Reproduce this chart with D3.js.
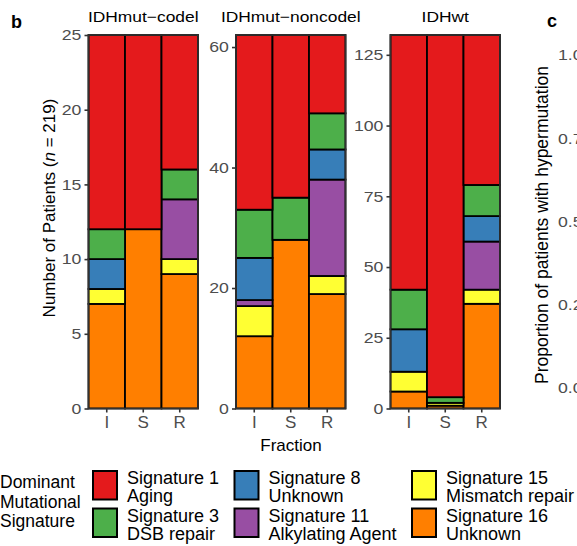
<!DOCTYPE html>
<html>
<head>
<meta charset="utf-8">
<script src="https://cdn.jsdelivr.net/npm/d3@7"></script>
<style>
  html, body { margin: 0; padding: 0; background: #fff; overflow: hidden; }
  svg { display: block; font-family: "Liberation Sans", Arial, Helvetica, sans-serif; }
</style>
</head>
<body>
<svg id="chart" width="577" height="546"></svg>
<script>
// ---- data ----
const subtypes = ["IDHmut−codel", "IDHmut−noncodel", "IDHwt"];
const fractions = ["I", "S", "R"];
// stacking order, bottom to top
const signatures = ["Signature 16", "Signature 15", "Signature 11", "Signature 8", "Signature 3", "Signature 1"];
const sigColors = ["#FF7F00", "#FFFF33", "#984EA3", "#377EB8", "#4DAF4A", "#E41A1C"];

// counts per signature (rows follow `signatures`), columns follow `fractions`
const codelCounts = [
  [7, 12, 9],    // Sig 16
  [1, 0, 1],     // Sig 15
  [0, 0, 4],     // Sig 11
  [2, 0, 0],     // Sig 8
  [2, 0, 2],     // Sig 3
  [13, 13, 9]    // Sig 1
];
const noncodelCounts = [
  [12, 28, 19],
  [5, 0, 3],
  [1, 0, 16],
  [7, 0, 5],
  [8, 7, 6],
  [29, 27, 13]
];
const wtCounts = [
  [6, 1, 37],
  [7, 1, 5],
  [0, 0, 17],
  [15, 0, 9],
  [14, 2, 11],
  [90, 128, 53]
];
const panelCounts = [codelCounts, noncodelCounts, wtCounts];
const panelTicks = [[0, 5, 10, 15, 20, 25], [0, 20, 40, 60], [0, 25, 50, 75, 100, 125]];

// legend
const legendOrder = ["Signature 1", "Signature 3", "Signature 8", "Signature 11", "Signature 15", "Signature 16"];
const legendLabels = [["Signature 1", "Aging"], ["Signature 3", "DSB repair"], ["Signature 8", "Unknown"],
                      ["Signature 11", "Alkylating Agent"], ["Signature 15", "Mismatch repair"], ["Signature 16", "Unknown"]];
const legendTitle = ["Dominant", "Mutational", "Signature"];

// panel c axis
const cTicks = [0, 0.25, 0.5, 0.75, 1];

// ---- layout ----
const svg = d3.select("#chart");
const panelX = [88.5, 236, 390.5];
const panelW = 109.5;
const plotTop = 35, plotBottom = 408.5;
const colorOf = d3.scaleOrdinal().domain(signatures).range(sigColors);

panelCounts.forEach((counts, p) => {
  const g = svg.append("g");
  const x = d3.scaleBand().domain(fractions).range([panelX[p], panelX[p] + panelW]).padding(0);
  const total = d3.max(fractions, (f, i) => d3.sum(counts, r => r[i]));
  const y = d3.scaleLinear().domain([0, total]).range([plotBottom, plotTop]);

  const rows = fractions.map((f, i) => {
    const o = { fraction: f };
    signatures.forEach((s, k) => o[s] = counts[k][i]);
    return o;
  });
  const stacked = d3.stack().keys(signatures)(rows);
  const segs = [];
  stacked.forEach(layer => layer.forEach(d => {
    if (d[1] - d[0] > 0) segs.push({ key: layer.key, y0: d[0], y1: d[1], f: d.data.fraction });
  }));

  g.selectAll("rect.seg").data(segs).join("rect")
    .attr("class", "seg")
    .attr("x", d => x(d.f))
    .attr("width", x.bandwidth())
    .attr("y", d => y(d.y1))
    .attr("height", d => y(d.y0) - y(d.y1))
    .attr("fill", d => colorOf(d.key))
    .attr("stroke", "#000")
    .attr("stroke-width", 1.8);

  g.append("rect")
    .attr("x", panelX[p]).attr("y", plotTop)
    .attr("width", panelW).attr("height", plotBottom - plotTop)
    .attr("fill", "none").attr("stroke", "#333").attr("stroke-width", 1.6);

  const ya = g.append("g").attr("transform", `translate(${panelX[p]},0)`)
    .call(d3.axisLeft(y).tickValues(panelTicks[p]).tickSize(4).tickPadding(2).tickFormat(d3.format("d")));
  ya.select(".domain").remove();
  ya.selectAll(".tick line").attr("stroke", "#333").attr("stroke-width", 1.6);
  ya.selectAll(".tick text").attr("fill", "#4D4D4D").style("font-size", "15px")
    .style("font-family", "Liberation Sans, Arial, sans-serif")
    .attr("transform", "scale(1.18,1)");

  const xa = g.append("g").attr("transform", `translate(0,${plotBottom})`)
    .call(d3.axisBottom(x).tickSize(4).tickPadding(3));
  xa.select(".domain").remove();
  xa.selectAll(".tick line").attr("stroke", "#333").attr("stroke-width", 1.6);
  xa.selectAll(".tick text").attr("fill", "#4D4D4D").style("font-size", "17px").style("font-family", "Liberation Sans, Arial, sans-serif");

  g.append("text")
    .attr("transform", `translate(${panelX[p] + panelW / 2},22) scale(1.16,1)`)
    .attr("text-anchor", "middle")
    .style("font-size", "15px").attr("fill", "#000")
    .text(subtypes[p]);
});

svg.append("text")
  .attr("transform", "translate(55,208) rotate(-90)")
  .attr("text-anchor", "middle")
  .style("font-size", "17px")
  .html('Number of Patients (<tspan font-style="italic">n</tspan> = 219)');

svg.append("text")
  .attr("x", 291).attr("y", 451)
  .attr("text-anchor", "middle").style("font-size", "17px")
  .text("Fraction");

svg.append("text").attr("x", 11).attr("y", 28).style("font-size", "18px").style("font-weight", "bold").text("b");
svg.append("text").attr("x", 547).attr("y", 27).style("font-size", "18px").style("font-weight", "bold").text("c");

const yc = d3.scaleLinear().domain([0, 1]).range([388, 55]);
svg.append("g").selectAll("text").data(cTicks).join("text")
  .attr("transform", d => `translate(558,${yc(d)}) scale(1.18,1)`)
  .attr("dy", "0.35em")
  .attr("fill", "#4D4D4D").style("font-size", "15px")
  .text(d => d3.format(".2f")(d));
svg.append("text")
  .attr("transform", "translate(548,225) rotate(-90)")
  .attr("text-anchor", "middle").style("font-size", "17.5px")
  .text("Proportion of patients with hypermutation");

const lg = svg.append("g");
lg.selectAll("text.title").data(legendTitle).join("text")
  .attr("class", "title")
  .attr("x", 0).attr("y", (d, i) => 488 + i * 19.5)
  .style("font-size", "17.5px").text(d => d);

const colX = [92, 233.5, 411];
const rowY = [470, 507.5];
legendOrder.forEach((s, i) => {
  const cx = colX[Math.floor(i / 2)], cy = rowY[i % 2];
  lg.append("rect")
    .attr("x", cx + 1).attr("y", cy + 1).attr("width", 24).attr("height", 28.5)
    .attr("fill", colorOf(s)).attr("stroke", "#000").attr("stroke-width", 2);
  lg.append("text").attr("x", cx + 35).attr("y", cy + 14).style("font-size", "18px").text(legendLabels[i][0]);
  lg.append("text").attr("x", cx + 35).attr("y", cy + 32).style("font-size", "18px").text(legendLabels[i][1]);
});
</script>
</body>
</html>
